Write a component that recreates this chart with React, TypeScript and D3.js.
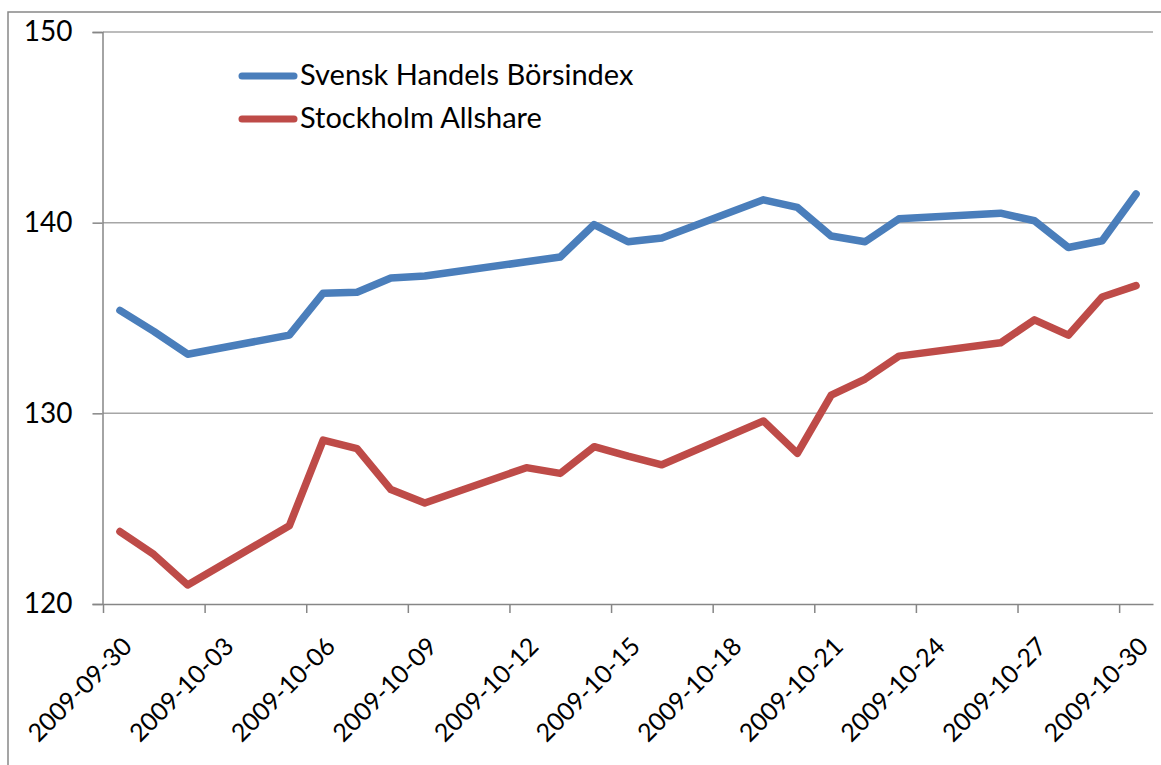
import React, { useEffect, useRef } from 'react';
import * as d3 from 'd3';

const svgWidth = 1161;
const svgHeight = 765;
const plot = { left: 103, right: 1153, top: 32, bottom: 604 };

const dates = [
  '2009-09-30', '2009-10-01', '2009-10-02', '2009-10-05', '2009-10-06', '2009-10-07',
  '2009-10-08', '2009-10-09', '2009-10-12', '2009-10-13', '2009-10-14', '2009-10-15',
  '2009-10-16', '2009-10-19', '2009-10-20', '2009-10-21', '2009-10-22', '2009-10-23',
  '2009-10-26', '2009-10-27', '2009-10-28', '2009-10-29', '2009-10-30',
];
const handels = [
  135.4, 134.3, 133.1, 134.1, 136.3, 136.35, 137.1, 137.2, 137.95, 138.2, 139.9, 139.0,
  139.2, 141.2, 140.8, 139.3, 139.0, 140.2, 140.5, 140.1, 138.7, 139.05, 141.5,
];
const allshare = [
  123.8, 122.6, 121.0, 124.1, 128.6, 128.15, 126.0, 125.3, 127.15, 126.85, 128.25, 127.75,
  127.3, 129.6, 127.9, 130.95, 131.8, 133.0, 133.7, 134.9, 134.1, 136.1, 136.7,
];
const seriesNames = ['Svensk Handels Börsindex', 'Stockholm Allshare'];
const seriesColors = ['#4a7ebb', '#be4b48'];
const xTicks = [
  '2009-09-30', '2009-10-03', '2009-10-06', '2009-10-09', '2009-10-12', '2009-10-15',
  '2009-10-18', '2009-10-21', '2009-10-24', '2009-10-27', '2009-10-30',
];
const yTicks = [120, 130, 140, 150];

const font = 'Lato, "Open Sans", sans-serif';

const App = () => {
  const ref = useRef<SVGSVGElement | null>(null);

  useEffect(() => {
    if (!ref.current) return;
    const svg = d3.select(ref.current);
    svg.selectAll('*').remove();

    const parse = d3.utcParse('%Y-%m-%d');
    const x = d3
      .scaleUtc()
      .domain([parse('2009-09-30') as Date, parse('2009-10-31') as Date])
      .range([plot.left, plot.right]);
    const y = d3.scaleLinear().domain([120, 150]).range([plot.bottom, plot.top]);
    // points sit in the middle of their day
    const mid = (s: string) => d3.utcHour.offset(parse(s) as Date, 12);

    svg.append('rect').attr('width', svgWidth).attr('height', svgHeight).attr('fill', '#fff');

    // chart border, runs off the right and bottom edges
    svg
      .append('rect')
      .attr('x', 8)
      .attr('y', 12)
      .attr('width', 1300)
      .attr('height', 900)
      .attr('fill', 'none')
      .attr('stroke', '#888')
      .attr('stroke-width', 1.5);

    // gridlines
    svg
      .append('g')
      .selectAll('line')
      .data(yTicks.filter(t => t > 120))
      .enter()
      .append('line')
      .attr('x1', plot.left)
      .attr('x2', plot.right)
      .attr('y1', d => y(d))
      .attr('y2', d => y(d))
      .attr('stroke', '#a6a6a6')
      .attr('stroke-width', 1.5);

    // y axis
    const yAxis = svg
      .append('g')
      .attr('transform', `translate(${plot.left - 0.5},0)`)
      .call(d3.axisLeft(y).tickValues(yTicks).tickSize(10).tickPadding(20).tickFormat(d3.format('d')));
    yAxis.select('.domain').attr('stroke', '#868686').attr('stroke-width', 1.5);
    yAxis.selectAll('.tick line').attr('stroke', '#868686').attr('stroke-width', 1.5);
    yAxis
      .selectAll('.tick text')
      .attr('font-family', font)
      .attr('font-size', 28)
      .attr('fill', '#000');

    // x axis
    const xAxis = svg
      .append('g')
      .attr('transform', `translate(0,${plot.bottom})`)
      .call(
        d3
          .axisBottom(x)
          .tickValues(xTicks.map(s => parse(s) as Date))
          .tickSize(9)
          .tickSizeOuter(0)
          .tickFormat(d => d3.utcFormat('%Y-%m-%d')(d as Date))
      );
    xAxis.select('.domain').attr('stroke', '#868686').attr('stroke-width', 1.5);
    xAxis.selectAll('.tick line').attr('stroke', '#868686').attr('stroke-width', 1.5);
    xAxis
      .selectAll('.tick text')
      .attr('font-family', font)
      .attr('font-size', 25)
      .attr('fill', '#000')
      .attr('text-anchor', 'end')
      .attr('dy', null)
      .attr('y', null)
      .attr('dominant-baseline', 'central')
      .attr('transform', 'translate(23,37) rotate(-45)');

    // series lines
    const line = d3
      .line<[string, number]>()
      .x(d => x(mid(d[0])))
      .y(d => y(d[1]));
    [handels, allshare].forEach((vals, i) => {
      svg
        .append('path')
        .datum(dates.map((dt, j) => [dt, vals[j]] as [string, number]))
        .attr('d', line)
        .attr('fill', 'none')
        .attr('stroke', seriesColors[i])
        .attr('stroke-width', 7.5)
        .attr('stroke-linejoin', 'round')
        .attr('stroke-linecap', 'round');
    });

    // legend
    const legend = svg
      .append('g')
      .selectAll('g')
      .data(seriesNames)
      .enter()
      .append('g')
      .attr('transform', (_, i) => `translate(240,${76 + i * 43})`);
    legend
      .append('line')
      .attr('x1', 2)
      .attr('x2', 54)
      .attr('stroke', (_, i) => seriesColors[i])
      .attr('stroke-width', 7)
      .attr('stroke-linecap', 'round');
    legend
      .append('text')
      .attr('x', 60)
      .attr('y', 9)
      .attr('font-family', font)
      .attr('font-size', 29)
      .attr('fill', '#000')
      .text(d => d);
  }, []);

  return (
    <div style={{ position: 'absolute', left: 0, top: 0 }}>
      <svg ref={ref} width={svgWidth} height={svgHeight} style={{ display: 'block' }} />
    </div>
  );
};

export default App;
